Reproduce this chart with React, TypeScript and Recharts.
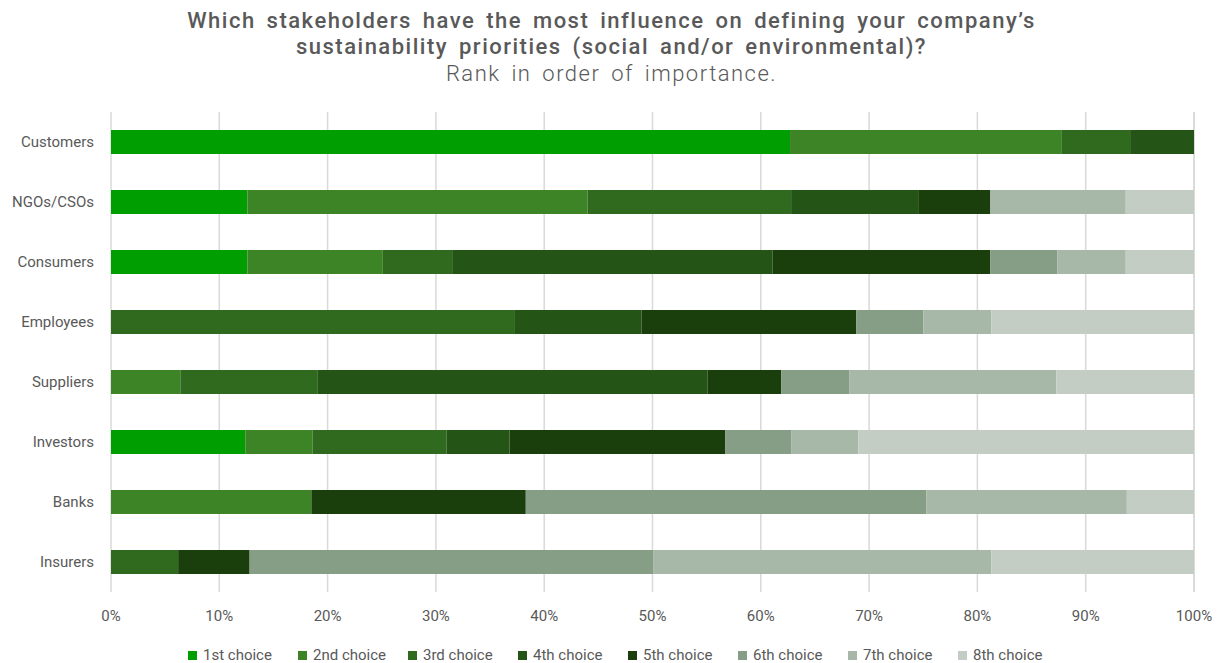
import React from 'react';
import { BarChart, Bar, XAxis, YAxis, CartesianGrid } from 'recharts';

// Stakeholder groups, top to bottom
const stakeholders = ['Customers', 'NGOs/CSOs', 'Consumers', 'Employees', 'Suppliers', 'Investors', 'Banks', 'Insurers'];

// Share of respondents (%) giving each rank
const first = [62.7, 12.6, 12.6, 0, 0, 12.4, 0, 0];
const second = [25.1, 31.4, 12.5, 0, 6.4, 6.2, 18.5, 0];
const third = [6.3, 18.8, 6.4, 37.3, 12.7, 12.4, 0, 6.2];
const fourth = [5.9, 11.8, 29.6, 11.7, 36.0, 5.8, 0, 0];
const fifth = [0, 6.6, 20.1, 19.8, 6.8, 19.9, 19.8, 6.6];
const sixth = [0, 0, 6.2, 6.2, 6.3, 6.1, 37.0, 37.3];
const seventh = [0, 12.5, 6.3, 6.3, 19.1, 6.2, 18.5, 31.2];
const eighth = [0, 6.3, 6.3, 18.7, 12.7, 31.0, 6.2, 18.7];

const choiceLabels = ['1st choice', '2nd choice', '3rd choice', '4th choice', '5th choice', '6th choice', '7th choice', '8th choice'];
const choiceKeys = ['c1', 'c2', 'c3', 'c4', 'c5', 'c6', 'c7', 'c8'];
const choiceColors = ['#009E00', '#3C8426', '#2F6A1E', '#245516', '#1A3E0C', '#869E86', '#A7B7A8', '#C3CDC4'];

const xTicks = [0, 10, 20, 30, 40, 50, 60, 70, 80, 90, 100];

const series = [first, second, third, fourth, fifth, sixth, seventh, eighth];
const data = stakeholders.map((name, i) => {
  const row: Record<string, string | number> = { name };
  choiceKeys.forEach((k, j) => {
    row[k] = series[j][i];
  });
  return row;
});

const TEXT = '#595959';

const titleLine: React.CSSProperties = {
  position: 'absolute',
  left: 0,
  width: 1223,
  textAlign: 'center',
  fontFamily: 'Roboto, sans-serif',
  fontSize: 22,
  lineHeight: '26px',
  letterSpacing: 1.5,
  wordSpacing: 4,
  color: TEXT,
  whiteSpace: 'nowrap',
};

export default function App() {
  return (
    <div
      style={{
        position: 'absolute',
        left: 0,
        top: 0,
        width: 1223,
        height: 663,
        background: '#ffffff',
        fontFamily: 'Roboto, sans-serif',
        overflow: 'hidden',
      }}
    >
      <div style={{ ...titleLine, top: 8, fontWeight: 500 }}>
        Which stakeholders have the most influence on defining your company’s
      </div>
      <div style={{ ...titleLine, top: 34, fontWeight: 500 }}>
        sustainability priorities (social and/or environmental)?
      </div>
      <div style={{ ...titleLine, top: 61, fontWeight: 300 }}>Rank in order of importance.</div>

      <div style={{ position: 'absolute', left: 0, top: 0 }}>
        <BarChart
          width={1223}
          height={663}
          data={data}
          layout="vertical"
          margin={{ top: 112, right: 29, bottom: 41, left: 0 }}
        >
          <CartesianGrid horizontal={false} stroke="#D9D9D9" strokeWidth={1.5} />
          <XAxis
            type="number"
            domain={[0, 100]}
            ticks={xTicks}
            tickFormatter={(v: number) => `${v}%`}
            axisLine={false}
            tickLine={false}
            tickMargin={12}
            height={30}
            tick={{ fill: TEXT, fontSize: 15, fontFamily: 'Roboto, sans-serif' }}
          />
          <YAxis
            type="category"
            dataKey="name"
            width={111}
            axisLine={false}
            tickLine={false}
            tickMargin={11}
            tick={{ fill: TEXT, fontSize: 15, fontFamily: 'Roboto, sans-serif' }}
          />
          {choiceKeys.map((k, j) => (
            <Bar
              key={k}
              dataKey={k}
              name={choiceLabels[j]}
              stackId="rank"
              fill={choiceColors[j]}
              barSize={24}
              isAnimationActive={false}
            />
          ))}
        </BarChart>
      </div>

      <div style={{ position: 'absolute', left: 188, top: 645, height: 20, display: 'flex' }}>
        {choiceLabels.map((label, j) => (
          <div key={label} style={{ width: 110, display: 'flex', alignItems: 'center' }}>
            <span style={{ width: 9, height: 9, background: choiceColors[j], display: 'inline-block', marginRight: 6 }} />
            <span style={{ fontSize: 15, color: TEXT, lineHeight: '20px' }}>{label}</span>
          </div>
        ))}
      </div>
    </div>
  );
}
